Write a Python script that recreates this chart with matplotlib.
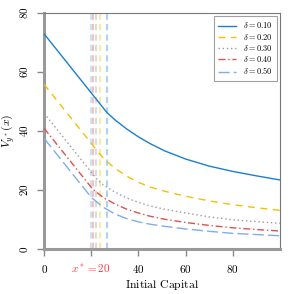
import matplotlib
matplotlib.use("Agg")
import matplotlib.pyplot as plt

plt.rcParams['mathtext.fontset'] = 'cm'
plt.rcParams['font.family'] = ['DejaVu Serif']

# Data
deltas = ["0.10", "0.20", "0.30", "0.40", "0.50"]
thresholds = [26.7, 23.8, 22.1, 20.6, 20.0]

x_blue = [0, 26.7, 30, 35, 40, 45, 51, 60, 70, 80, 90, 100]
v_blue = [72.9, 46.2, 43.8, 40.7, 38.0, 35.7, 33.3, 30.5, 28.1, 26.3, 24.8, 23.4]

x_yellow = [0, 23.8, 26, 30, 35, 40, 45, 51, 60, 70, 80, 90, 100]
v_yellow = [55.8, 32.0, 30.1, 27.4, 24.7, 22.6, 21.0, 19.6, 17.9, 16.3, 15.0, 14.0, 13.1]

x_gray = [0, 22.1, 25, 30, 35, 40, 45, 51, 60, 70, 80, 90, 100]
v_gray = [46.0, 23.9, 21.8, 19.3, 17.3, 15.8, 14.6, 13.5, 12.2, 10.9, 9.9, 9.3, 8.7]

x_red = [0, 20.6, 25, 30, 35, 40, 45, 51, 60, 70, 80, 90, 100]
v_red = [40.9, 20.3, 17.5, 15.3, 13.5, 12.2, 11.1, 10.1, 9.0, 8.0, 7.2, 6.6, 6.1]

x_lblue = [0, 20.0, 25, 30, 35, 40, 45, 51, 60, 70, 80, 90, 100]
v_lblue = [37.5, 17.5, 14.2, 11.9, 10.3, 9.2, 8.4, 7.7, 6.8, 6.0, 5.3, 4.9, 4.5]

xs = [x_blue, x_yellow, x_gray, x_red, x_lblue]
vs = [v_blue, v_yellow, v_gray, v_red, v_lblue]
colors = ["#1a7fd0", "#f2c200", "#9a9a9a", "#d9534f", "#7eaee8"]
styles = ["-", (0, (5, 4)), (0, (1, 2)), (0, (5, 2, 1, 2)), (0, (8, 3))]

xtick_vals = [0, 20, 40, 60, 80]
xtick_labels = ["$0$", "$x^* = 20$", "$40$", "$60$", "$80$"]
ytick_vals = [0, 20, 40, 60, 80]

fig = plt.figure(figsize=(2.94, 2.94), dpi=100)
ax = fig.add_axes([0.150, 0.153, 0.802, 0.803])

for t, c in zip(thresholds, colors):
    ax.axvline(t, color=c, alpha=0.35, lw=1.5, ls=(0, (3, 2)), zorder=1)

for x, v, c, s, d in zip(xs, vs, colors, styles, deltas):
    ax.plot(x, v, color=c, ls=s, lw=1.0, label=r"$\delta = %s$" % d, zorder=3)

ax.set_xlim(0, 100)
ax.set_ylim(0, 80)
ax.set_xticks(xtick_vals)
ax.set_xticklabels(xtick_labels)
ax.get_xticklabels()[1].set_color("#ff3333")
ax.set_yticks(ytick_vals)
ax.set_yticklabels(["$%d$" % v for v in ytick_vals], rotation=90, va="center")

ax.tick_params(axis="both", labelsize=8, color="#888888", width=1.0, length=5, pad=5)
for side in ["left", "bottom"]:
    ax.spines[side].set_color("#999999")
    ax.spines[side].set_linewidth(2.2)
for side in ["top", "right"]:
    ax.spines[side].set_color("#777777")
    ax.spines[side].set_linewidth(0.8)

ax.set_xlabel(r"$\mathrm{Initial\ Capital}$", fontsize=8.5, labelpad=2)
ax.set_ylabel(r"$V_{y^*}(x)$", fontsize=8.5, labelpad=1)

leg = ax.legend(loc="upper right", fontsize=6, frameon=True, fancybox=False,
                edgecolor="#888888", handlelength=2.2, borderpad=0.5,
                labelspacing=0.15, borderaxespad=0.4)
leg.get_frame().set_linewidth(0.8)

fig.savefig("out.png", dpi=100)
